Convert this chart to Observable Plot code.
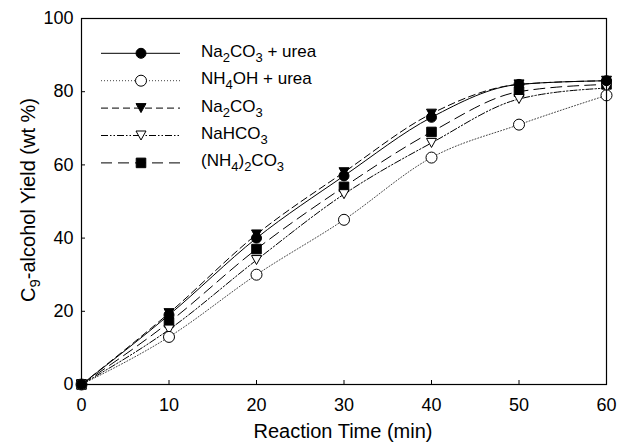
<!DOCTYPE html>
<html>
<head>
<meta charset="utf-8">
<script src="https://cdn.jsdelivr.net/npm/d3@7"></script>
<script src="https://cdn.jsdelivr.net/npm/@observablehq/plot@0.6"></script>
<style>
  html, body { margin: 0; padding: 0; background: white; }
</style>
</head>
<body>
<div id="chart"></div>
<script>
// ---- data ----
const times = [0, 10, 20, 30, 40, 50, 60];
const na2co3Urea = [0, 19, 40, 57, 73, 82, 83];
const nh4ohUrea  = [0, 13, 30, 45, 62, 71, 79];
const na2co3     = [0, 19.5, 41, 58, 74, 82, 83];
const nahco3     = [0, 15, 34, 52, 66, 78, 81];
const nh42co3    = [0, 17, 37, 54, 69, 80, 82];
const xTicks = [0, 10, 20, 30, 40, 50, 60];
const yTicks = [0, 20, 40, 60, 80, 100];
const xLabel = "Reaction Time (min)";
// legend labels as [text, subscript] parts
const legendLabels = [
  [["Na", false], ["2", true], ["CO", false], ["3", true], [" + urea", false]],
  [["NH", false], ["4", true], ["OH + urea", false]],
  [["Na", false], ["2", true], ["CO", false], ["3", true]],
  [["NaHCO", false], ["3", true]],
  [["(NH", false], ["4", true], [")", false], ["2", true], ["CO", false], ["3", true]]
];

const triDown = {
  draw(ctx) {
    ctx.moveTo(-5, -4.5);
    ctx.lineTo(5, -4.5);
    ctx.lineTo(0, 4.5);
    ctx.closePath();
  }
};

const series = [
  {values: na2co3Urea, dash: null, stroke: "black", symbol: "circle", fill: "black", r: 5},
  {values: nh4ohUrea, dash: "1,2", stroke: "#444", symbol: "circle", fill: "white", r: 5.5},
  {values: na2co3, dash: "7,4", stroke: "black", symbol: triDown, fill: "black", r: 5},
  {values: nahco3, dash: "7,2,1.5,2,1.5,2", stroke: "black", symbol: triDown, fill: "white", r: 5},
  {values: nh42co3, dash: "11,6", stroke: "black", symbol: "square", fill: "black", r: 5.4}
];

const tables = series.map(s => times.map((t, i) => ({t, v: s.values[i]})));

const lineMarks = series.map((s, k) => Plot.line(tables[k], {
  x: "t", y: "v", curve: "monotone-x", stroke: s.stroke, strokeWidth: 1,
  strokeDasharray: s.dash ?? undefined
}));
const dotMarks = series.slice().reverse().map((s) => {
  const k = series.indexOf(s);
  return Plot.dot(tables[k], {
    x: "t", y: "v", symbol: s.symbol, r: s.r, fill: s.fill, stroke: "black", strokeWidth: 1
  });
});

const font = "'Liberation Sans', Arial, sans-serif";

const chart = Plot.plot({
  width: 618,
  height: 443,
  marginLeft: 81,
  marginRight: 12,
  marginTop: 18,
  marginBottom: 59,
  style: {fontFamily: font, fontSize: "18px", background: "white", color: "black"},
  x: {domain: [0, 60]},
  y: {domain: [0, 100]},
  marks: [
    ...lineMarks,
    ...dotMarks,
    Plot.axisX({ticks: xTicks, tickSize: -4, tickPadding: 18, label: null, fontSize: 18, tickFormat: d => String(d)}),
    Plot.axisY({ticks: yTicks, tickSize: -4, tickPadding: 12, label: null, fontSize: 18, tickFormat: d => String(d)}),
    Plot.frame({stroke: "black", strokeWidth: 1.2})
  ]
});
document.getElementById("chart").appendChild(chart);

const svg = d3.select(chart);

// axis titles
svg.append("text")
  .attr("x", 343).attr("y", 438)
  .attr("text-anchor", "middle")
  .attr("font-family", font).attr("font-size", 20)
  .attr("fill", "black")
  .text(xLabel);

const yl = svg.append("text")
  .attr("transform", "translate(35,200) rotate(-90)")
  .attr("text-anchor", "middle")
  .attr("font-family", font).attr("font-size", 20)
  .attr("fill", "black");
yl.append("tspan").text("C");
yl.append("tspan").attr("dy", 5).attr("font-size", 15).text("9");
yl.append("tspan").attr("dy", -5).text("-alcohol Yield (wt %)");

// legend
const lg = svg.append("g").attr("text-anchor", "start");
series.forEach((s, i) => {
  const y = 53.3 + i * 27.4;
  lg.append("line")
    .attr("x1", 101).attr("x2", 180).attr("y1", y).attr("y2", y)
    .attr("stroke", s.stroke).attr("stroke-width", 1)
    .attr("stroke-dasharray", s.dash);
  let path;
  if (s.symbol === "circle") {
    path = d3.symbol(d3.symbolCircle, Math.PI * s.r * s.r)();
  } else if (s.symbol === "square") {
    path = d3.symbol(d3.symbolSquare, Math.PI * s.r * s.r)();
  } else {
    path = "M-5,-4.5L5,-4.5L0,4.5Z";
  }
  lg.append("path")
    .attr("d", path)
    .attr("transform", `translate(141,${y})`)
    .attr("fill", s.fill).attr("stroke", "black").attr("stroke-width", 1);
  const t = lg.append("text")
    .attr("x", 201).attr("y", y + 3.5)
    .attr("text-anchor", "start")
    .attr("font-family", font).attr("font-size", 17)
    .attr("fill", "black");
  let sub = false;
  legendLabels[i].forEach(([txt, isSub]) => {
    const ts = t.append("tspan").text(txt);
    if (isSub && !sub) { ts.attr("dy", 5).attr("font-size", 13); sub = true; }
    else if (isSub && sub) { ts.attr("font-size", 13); }
    else if (!isSub && sub) { ts.attr("dy", -5); sub = false; }
  });
});
</script>
</body>
</html>
